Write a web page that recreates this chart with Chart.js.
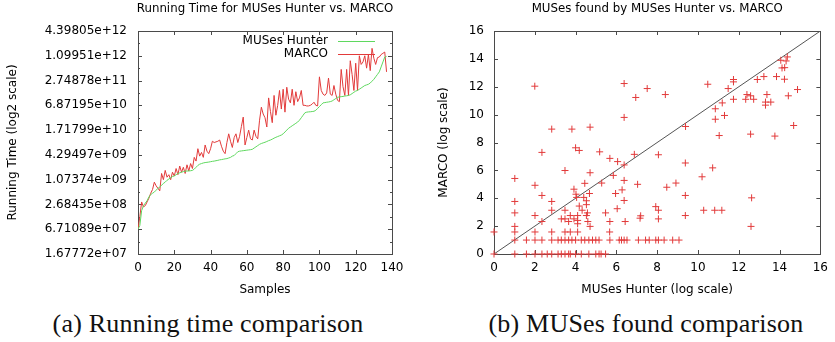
<!DOCTYPE html>
<html>
<head>
<meta charset="utf-8">
<script src="https://cdn.jsdelivr.net/npm/chart.js@4/dist/chart.umd.min.js"></script>
<style>
  html, body { margin: 0; padding: 0; background: #fff; width: 835px; height: 342px; overflow: hidden; }
  .panel { position: absolute; top: 0; height: 305px; }
  #left { left: 0; width: 420px; }
  #right { left: 420px; width: 415px; }
  .caption { position: absolute; top: 309px; font-family: "Liberation Serif", serif; font-size: 26px; line-height: 30px; letter-spacing: 0.2px; color: #111; text-align: center; white-space: nowrap; }
  #capA { left: 8px; width: 400px; }
  #capB { left: 446px; width: 400px; }
</style>
</head>
<body>
<div class="panel" id="left"><canvas id="timeChart" width="420" height="305"></canvas></div>
<div class="panel" id="right"><canvas id="musChart" width="415" height="305"></canvas></div>
<div class="caption" id="capA">(a) Running time comparison</div>
<div class="caption" id="capB">(b) MUSes found comparison</div>
<script>
// running time per sample, stored as log2(time); sample index = position
const hunterLog2 = [
  26.0, 26.3, 27.5, 27.9, 28.1, 28.3, 28.6, 28.8, 28.9, 29.0,
  29.15, 29.3, 29.4, 29.55, 29.7, 29.8, 29.95, 30.05, 30.15, 30.25,
  30.3, 30.4, 30.5, 30.55, 30.6, 30.65, 30.68, 30.7, 30.7, 30.72,
  30.75, 30.85, 31.0, 31.15, 31.25, 31.3, 31.35, 31.38, 31.4, 31.42,
  31.45, 31.48, 31.5, 31.53, 31.56, 31.6, 31.62, 31.65, 31.68, 31.7,
  31.75, 31.8, 31.9, 31.95, 32.1, 32.25, 32.3, 32.32, 32.34, 32.36,
  32.38, 32.4, 32.42, 32.45, 32.55, 32.65, 32.75, 32.85, 32.92, 32.97,
  33.02, 33.08, 33.15, 33.2, 33.27, 33.35, 33.42, 33.48, 33.54, 33.6,
  33.7, 33.85, 34.0, 34.15, 34.25, 34.35, 34.45, 34.55, 34.65, 34.8,
  35.0, 35.2, 35.4, 35.45, 35.47, 35.48, 35.5, 35.52, 35.6, 35.75,
  35.9, 36.05, 36.2, 36.22, 36.25, 36.27, 36.3, 36.35, 36.45, 36.55,
  36.65, 36.68, 36.7, 36.72, 36.75, 36.77, 36.8, 36.85, 36.95, 37.05,
  37.15, 37.2, 37.3, 37.4, 37.5, 37.6, 37.65, 37.7, 37.8, 37.95,
  38.1, 38.3, 38.5, 38.7, 39.1, 39.5, 39.9, 39.95
];
const marcoLog2 = [
  26.0, 27.0, 28.2, 27.8, 27.9, 28.2, 28.5, 28.9, 29.2, 29.8,
  29.5, 29.3, 29.1, 30.5, 30.0, 30.75, 30.2, 30.4, 30.0, 30.6,
  30.3, 30.9, 30.4, 31.1, 30.6, 31.0, 30.5, 31.2, 30.7, 31.3,
  30.9, 31.8, 31.5, 32.5, 31.9, 32.2, 31.8, 32.8, 32.3, 32.1,
  32.5, 33.1, 33.0, 33.05, 33.1, 33.2, 32.7, 32.3, 32.1, 33.0,
  33.7, 33.1, 32.6, 33.4, 33.7, 33.0, 33.5, 34.3, 35.05, 32.8,
  33.4, 34.0, 33.3, 33.2, 34.0, 33.5, 33.3, 34.8, 35.85, 35.3,
  35.0, 34.25, 36.6, 35.5, 34.6, 36.8, 35.2, 36.0, 37.2, 35.7,
  37.3, 35.45, 37.46, 36.5, 36.2, 37.3, 36.0, 37.1, 36.3, 36.6,
  37.2, 36.0, 36.0, 35.95, 35.95, 36.0, 36.1, 36.25, 36.0, 35.95,
  38.3, 37.2, 36.9, 36.8, 37.0, 38.2, 36.9, 36.8, 37.6, 36.9,
  36.4, 36.3, 38.9, 37.5, 36.8, 38.9, 36.8, 39.6, 38.5, 37.2,
  39.4, 37.2, 40.0, 39.3, 39.5, 40.0, 39.0, 40.1, 38.8, 40.6,
  39.8, 39.3, 39.85, 39.9, 40.1, 40.2, 40.3, 38.7
];
const timeTickExponents = [24, 26, 28, 30, 32, 34, 36, 38, 40, 42];

// MUSes found (log scale): x = MUSes Hunter, y = MARCO
const hunterMuses = [
  2.0, 2.83, 3.82, 4.71, 6.38, 6.38, 6.95, 7.51, 8.4, 9.39,
  10.48, 10.85, 10.85, 11.04, 11.19, 11.3, 11.48, 11.74, 11.74, 11.74,
  12.34, 12.4, 12.58, 12.58, 12.73, 12.91, 13.23, 13.31, 13.31, 13.38,
  13.57, 13.77, 13.85, 14.06, 14.12, 14.25, 14.24, 14.32, 14.38, 14.43,
  14.69, 14.88,
  4.0, 4.18, 2.35, 5.18, 5.68, 6.88, 8.06, 6.06, 6.38, 1.02,
  3.48, 4.71, 5.85, 4.45, 5.28, 6.38, 7.04, 9.38, 10.72, 10.2,
  8.47, 8.92, 1.02, 2.01, 2.35, 2.83, 3.92, 4.02, 4.05, 4.4,
  4.68, 4.53, 4.53, 5.96, 6.28, 6.38, 4.18, 6.04, 9.38, 12.63,
  7.93, 8.06, 10.28, 10.82, 11.17, 9.38, 1.02, 2.01, 2.35, 2.83,
  3.48, 3.3, 3.48, 3.74, 3.92, 4.1, 4.1, 4.1, 4.32, 4.53,
  4.58, 4.6, 4.71, 3.66, 5.47, 5.68, 6.43, 7.16, 7.19, 8.06,
  12.6,
  0, 1.02, 1.02, 2.01, 2.83, 3.48, 3.74, 4.1, 5.67,
  1.02, 1.59, 2.01, 2.35, 2.83, 3.14, 3.3, 3.48, 3.66, 3.82,
  4.0, 4.28, 4.45, 4.65, 4.83, 4.99, 5.15, 5.68, 6.14, 6.25,
  6.38, 6.52, 7.08, 7.43, 7.61, 7.93, 8.06, 8.34, 8.76, 9.07,
  0, 1.02, 1.59, 2.01, 2.35, 2.61, 2.83, 3.14, 3.3, 3.48,
  3.66, 3.74, 4.0, 4.28, 4.65, 4.99, 5.15, 5.25, 5.47
];
const marcoMuses = [
  12.04, 8.96, 8.96, 9.1, 12.23, 9.8, 11.23, 11.87, 11.44, 9.15,
  12.18, 10.42, 9.67, 8.5, 10.84, 9.94, 11.87, 12.52, 12.35, 11.1,
  11.1, 11.44, 11.35, 8.6, 11.1, 12.52, 12.73, 10.9, 10.68, 11.44,
  10.9, 8.46, 12.73, 13.9, 13.35, 13.37, 12.54, 13.85, 14.14, 11.35,
  9.22, 11.8,
  7.62, 7.43, 7.29, 7.33, 6.86, 7.15, 7.12, 6.63, 6.39, 5.42,
  5.99, 5.83, 5.64, 5.07, 5.09, 5.28, 5.0, 6.53, 6.18, 5.54,
  4.79, 5.09, 3.77, 4.93, 4.2, 3.77, 4.65, 4.29, 4.06, 4.06,
  4.34, 3.82, 3.54, 4.34, 4.6, 3.84, 3.44, 3.25, 4.2, 4.03,
  3.4, 3.14, 3.14, 3.14, 3.14, 2.76, 2.95, 2.76, 2.33, 3.14,
  3.14, 2.52, 2.52, 2.76, 2.52, 2.76, 2.41, 2.17, 3.14, 2.76,
  2.95, 2.33, 1.98, 2.33, 2.95, 2.33, 2.33, 2.57, 2.74, 2.52,
  1.98,
  1.58, 1.98, 1.58, 1.58, 1.58, 1.58, 1.58, 1.58, 1.58,
  1, 1, 1, 1, 1, 1, 1, 1, 1, 1,
  1, 1, 1, 1, 1, 1, 1, 1, 1, 1,
  1, 1, 1, 1, 1, 1, 1, 1, 1, 1,
  0, 0, 0, 0, 0, 0, 0, 0, 0, 0,
  0, 0, 0, 0, 0, 0, 0, 0, 0
];
const diagonal = [0, 16];

const red = "#e23a3a";
const green = "#5fd85f";
const frameColor = "#4a4a4a";

Chart.defaults.font.family = "'DejaVu Sans', sans-serif";
Chart.defaults.font.size = 12;
Chart.defaults.color = "#000";

function gnuFormat(v) {
  const parts = v.toExponential(5).split("e");
  const ex = Number(parts[1]);
  return parts[0] + "e" + (ex < 0 ? "-" : "+") + String(Math.abs(ex)).padStart(2, "0");
}

// gnuplot look: border box, inward ticks mirrored on all sides, centred title
const gnuFrame = {
  id: "gnuFrame",
  beforeDatasetsDraw(chart, args, opts) {
    const { ctx, chartArea: a, scales } = chart;
    ctx.save();
    ctx.strokeStyle = frameColor;
    ctx.lineWidth = 1;
    ctx.strokeRect(Math.round(a.left) + 0.5, Math.round(a.top) + 0.5,
      Math.round(a.right - a.left), Math.round(a.bottom - a.top));
    ctx.beginPath();
    scales.x.ticks.forEach((t) => {
      const px = Math.round(scales.x.getPixelForValue(t.value)) + 0.5;
      ctx.moveTo(px, a.bottom); ctx.lineTo(px, a.bottom - 4);
      ctx.moveTo(px, a.top); ctx.lineTo(px, a.top + 4);
    });
    scales.y.ticks.forEach((t) => {
      const py = Math.round(scales.y.getPixelForValue(t.value)) + 0.5;
      const len = opts.minorY && t.value % 2 ? 2 : 4;
      ctx.moveTo(a.left, py); ctx.lineTo(a.left + len, py);
      ctx.moveTo(a.right, py); ctx.lineTo(a.right - len, py);
    });
    ctx.stroke();
    ctx.restore();
  },
  afterDraw(chart, args, opts) {
    const { ctx, chartArea: a } = chart;
    ctx.save();
    ctx.fillStyle = "#000";
    ctx.font = "11.8px 'DejaVu Sans'";
    ctx.textAlign = "center";
    ctx.textBaseline = "middle";
    ctx.fillText(opts.title, (a.left + a.right) / 2, 9);
    if (opts.legend) {
      ctx.font = "12px 'DejaVu Sans'";
      ctx.textAlign = "right";
      opts.legend.forEach((item, i) => {
        const y = a.top + 9.5 + i * 13.8;
        ctx.fillText(item.label, a.right - 64, y);
        ctx.strokeStyle = item.color;
        ctx.lineWidth = 1;
        ctx.beginPath();
        ctx.moveTo(a.right - 54, Math.round(y) + 0.5);
        ctx.lineTo(a.right - 17, Math.round(y) + 0.5);
        ctx.stroke();
      });
    }
    ctx.restore();
  },
};

function axisBase(title, titlePad) {
  return {
    grid: { display: false, drawTicks: false },
    border: { display: false },
    title: { display: true, text: title, font: { size: 12 }, padding: titlePad },
  };
}

new Chart(document.getElementById("timeChart"), {
  type: "line",
  data: {
    datasets: [
      {
        label: "MUSes Hunter",
        data: hunterLog2.map((v, i) => ({ x: i, y: v })),
        borderColor: green, borderWidth: 1, pointRadius: 0, tension: 0,
      },
      {
        label: "MARCO",
        data: marcoLog2.map((v, i) => ({ x: i, y: v })),
        borderColor: red, borderWidth: 1, pointRadius: 0, tension: 0,
      },
    ],
  },
  options: {
    responsive: false,
    animation: false,
    events: [],
    layout: { padding: { top: 31, right: 28, left: 0, bottom: 0 } },
    plugins: {
      legend: { display: false },
      tooltip: { enabled: false },
      gnuFrame: {
        title: "Running Time for MUSes Hunter vs. MARCO",
        minorY: true,
        legend: [ { label: "MUSes Hunter", color: green }, { label: "MARCO", color: red } ],
      },
    },
    scales: {
      x: {
        type: "linear", min: 0, max: 140,
        ...axisBase("Samples", { bottom: 7.8 }),
        ticks: { stepSize: 20, padding: 7, maxRotation: 0 },
        afterFit: (s) => { s.height = 51; },
      },
      y: {
        type: "linear", min: 24, max: 42,
        ...axisBase("Running Time (log2 scale)", { top: 5.5 }),
        ticks: {
          stepSize: 1, padding: 11, autoSkip: false,
          callback: (v) => (timeTickExponents.includes(v) ? gnuFormat(2 ** v) : ""),
        },
        afterFit: (s) => { s.width = 138; },
      },
    },
  },
  plugins: [gnuFrame],
});

new Chart(document.getElementById("musChart"), {
  type: "scatter",
  data: {
    datasets: [
      {
        label: "MUSes",
        data: hunterMuses.map((v, i) => ({ x: v, y: marcoMuses[i] })),
        pointStyle: "cross", pointRadius: 3.5, borderWidth: 1,
        borderColor: red, backgroundColor: red, clip: false,
      },
      {
        label: "y = x",
        data: diagonal.map((v) => ({ x: v, y: v })),
        showLine: true, pointRadius: 0, borderColor: "#555", borderWidth: 1,
      },
    ],
  },
  options: {
    responsive: false,
    animation: false,
    events: [],
    layout: { padding: { top: 31, right: 12, left: 0, bottom: 0 } },
    plugins: {
      legend: { display: false },
      tooltip: { enabled: false },
      gnuFrame: { title: "MUSes found by MUSes Hunter vs. MARCO" },
    },
    scales: {
      x: {
        type: "linear", min: 0, max: 16,
        ...axisBase("MUSes Hunter (log scale)", { bottom: 7.8 }),
        ticks: { stepSize: 2, padding: 7, maxRotation: 0 },
        afterFit: (s) => { s.height = 51; },
      },
      y: {
        type: "linear", min: 0, max: 16,
        ...axisBase("MARCO (log scale)", { top: 16.8 }),
        ticks: { stepSize: 2, padding: 10 },
        afterFit: (s) => { s.width = 74; },
      },
    },
  },
  plugins: [gnuFrame],
});
</script>
</body>
</html>
